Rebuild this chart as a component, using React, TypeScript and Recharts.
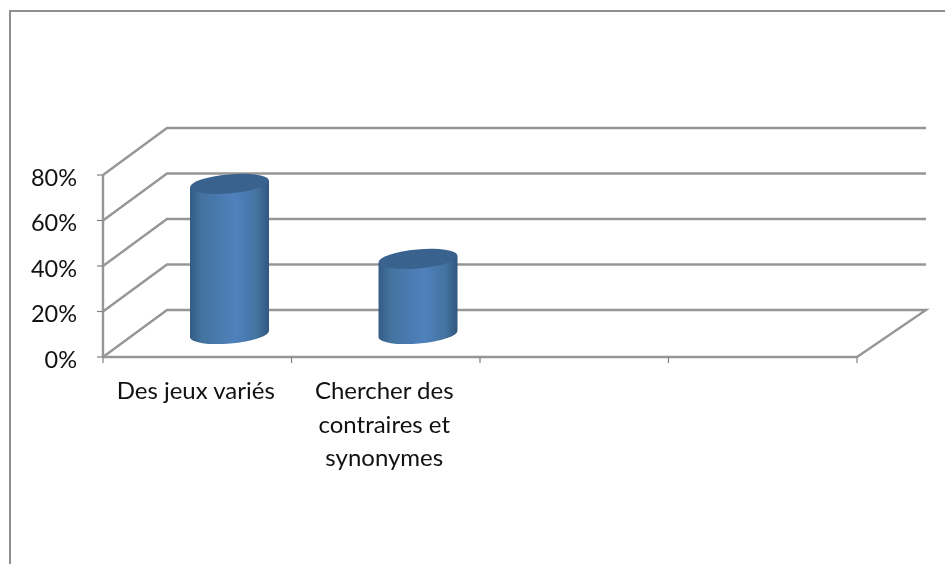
import React from "react";
import { BarChart, Bar, XAxis, YAxis, CartesianGrid } from "recharts";

const categories = ["Des jeux variés", "Chercher des contraires et synonymes", "", ""];
const categoryLines = [["Des jeux variés"], ["Chercher des", "contraires et", "synonymes"], [], []];
const values = [0.66, 0.33, null, null];
const yTicks = [0, 0.2, 0.4, 0.6, 0.8];

const rows = categories.map((name, i) => ({ name, value: values[i] }));

const FONT = "Lato, Carlito, sans-serif";
const LINE = "#969696";
const DX_L = 64;
const DX_R = 69;
const DY = 47;

const grid3D = (p: any) => {
  const { x1, x2, y1, key } = p;
  const isFloor = Math.abs(y1 - 357) < 1;
  return (
    <g key={key}>
      <polyline
        points={`${x1},${y1} ${x1 + DX_L},${y1 - DY} ${x2 + DX_R},${y1 - DY}${isFloor ? ` ${x2},${y1}` : ""}`}
        fill="none"
        stroke={LINE}
        strokeWidth={2.4}
      />
    </g>
  );
};

const Cylinder = (p: any) => {
  const { x, y, width, height } = p;
  if (height == null || !width) return null;
  const depthX = 32;
  const depthY = 23;
  const rx = width / 2;
  const ry = 9.5;
  const tilt = -5;
  const cx = x + width / 2 + depthX;
  const top = y - depthY;
  const bottom = y + height - depthY;
  const sl = 3.5;
  const l = cx - rx;
  const r = cx + rx;
  return (
    <g>
      <path
        d={`M${l},${top + sl} L${l},${bottom + sl} A${rx},${ry} ${tilt} 0 0 ${r},${bottom - sl} L${r},${top - sl} Z`}
        fill="url(#cylBody)"
      />
      <ellipse cx={cx} cy={top} rx={rx} ry={ry} transform={`rotate(${tilt} ${cx} ${top})`} fill="#39628f" />
    </g>
  );
};

const XTick = (p: any) => {
  const { x, index } = p;
  const half = 94.25;
  const lines = categoryLines[index] || [];
  return (
    <g>
      <line x1={x - half} x2={x - half} y1={357} y2={363} stroke="#808080" strokeWidth={1.2} />
      {index === categories.length - 1 && (
        <line x1={x + half} x2={x + half} y1={357} y2={363} stroke="#808080" strokeWidth={1.2} />
      )}
      {lines.map((t: string, i: number) => (
        <text key={i} x={x - 1.5} y={399 + i * 33.5} textAnchor="middle" fontFamily={FONT} fontSize={24} fill="#111">
          {t}
        </text>
      ))}
    </g>
  );
};

export default function App() {
  return (
    <div style={{ position: "absolute", left: 0, top: 0, width: 945, height: 564, overflow: "hidden", background: "#fff", filter: "blur(0.6px)" }}>
      <div style={{ position: "absolute", left: 8.5, top: 10, width: 945, height: 564, borderLeft: "2px solid #8f8f8f", borderTop: "2px solid #8f8f8f" }} />
      <div style={{ position: "absolute", left: 0, top: 0 }}>
        <BarChart width={945} height={564} data={rows} margin={{ top: 175, right: 88, bottom: 0, left: 0 }} barSize={79}>
          <defs>
            <linearGradient id="cylBody" x1="0" y1="0" x2="1" y2="0">
              <stop offset="0%" stopColor="#345b87" />
              <stop offset="15%" stopColor="#44739f" />
              <stop offset="58%" stopColor="#4f81bd" />
              <stop offset="85%" stopColor="#44739f" />
              <stop offset="100%" stopColor="#31567f" />
            </linearGradient>
          </defs>
          <CartesianGrid vertical={false} horizontal={grid3D as any} />
          <XAxis
            dataKey="name"
            interval={0}
            tickLine={false}
            axisLine={{ stroke: LINE, strokeWidth: 2.4 }}
            tick={XTick as any}
            height={207}
          />
          <YAxis
            width={103}
            domain={[0, 0.8]}
            ticks={yTicks}
            tickFormatter={(v: number) => `${Math.round(v * 100)}%`}
            tick={{ fontFamily: FONT, fontSize: 23.5, fill: "#111", dy: 2.5 }}
            tickSize={6}
            tickMargin={20}
            tickLine={{ stroke: "#808080", strokeWidth: 1.2 }}
            axisLine={{ stroke: LINE, strokeWidth: 2.4 }}
          />
          <Bar dataKey="value" isAnimationActive={false} shape={Cylinder as any} />
        </BarChart>
      </div>
    </div>
  );
}
